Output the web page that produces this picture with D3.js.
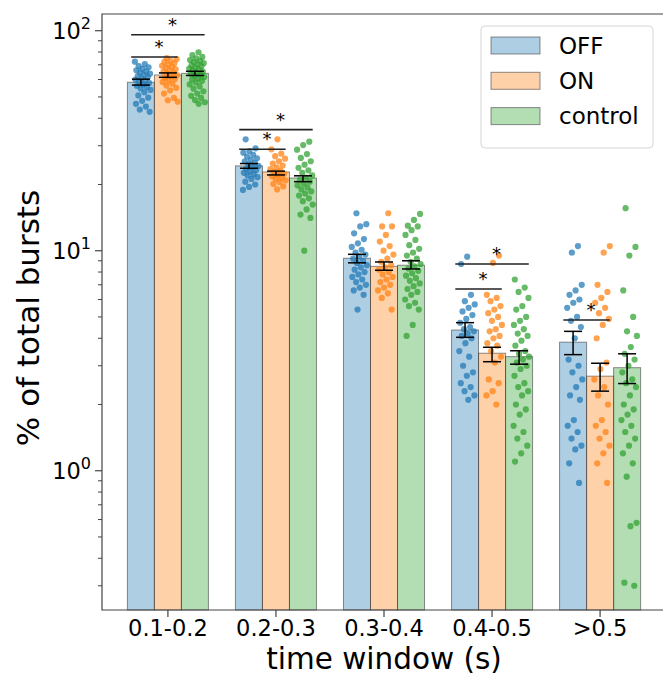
<!DOCTYPE html><meta charset="utf-8">
<style>
*{margin:0}
body{background:#fff}
text{font-family:"DejaVu Sans",sans-serif;fill:#000}
</style>
<svg width="663" height="677"></svg>
<script src="https://cdn.jsdelivr.net/npm/d3@7"></script>
<script>
// categories / groups
const categories = ["0.1-0.2", "0.2-0.3", "0.3-0.4", "0.4-0.5", ">0.5"];
const conditions = ["OFF", "ON", "control"];

// bar heights (mean, %)
const meanOFF     = [58.3, 24.3, 9.24, 4.36, 3.84];
const meanON      = [62.9, 22.8, 8.49, 3.42, 2.69];
const meanControl = [64.0, 21.4, 8.59, 3.30, 2.94];

// error bar ends
const errLoOFF     = [56.6, 23.7, 8.81, 4.04, 3.37];
const errHiOFF     = [60.2, 24.9, 9.63, 4.71, 4.30];
const errLoON      = [61.4, 22.1, 8.15, 3.13, 2.30];
const errHiON      = [64.3, 23.0, 8.89, 3.64, 3.08];
const errLoControl = [62.6, 20.6, 8.26, 3.05, 2.49];
const errHiControl = [65.4, 21.9, 9.00, 3.51, 3.40];

// single-subject points
const pointsOFF = [
  [72.3,70.5,69.0,68.2,67.0,66.1,65.3,64.5,63.8,63.0,62.2,61.5,60.8,60.0,59.3,58.6,57.9,57.0,56.2,55.5,54.6,53.8,52.5,50.8,49.6,48.0,46.5,45.2,43.8,42.8],
  [32.1,29.2,28.4,27.9,27.3,26.8,26.3,25.9,25.5,25.1,24.7,24.3,24.0,23.6,23.3,23.0,22.6,22.3,22.0,21.6,21.2,20.6,20.0,19.5,18.9],
  [14.8,13.2,12.9,12.0,11.3,10.8,10.4,10.1,9.8,9.6,9.4,9.2,9.0,8.8,8.6,8.4,8.2,8.0,7.8,7.6,7.4,7.2,7.0,6.8,6.6,6.3,5.4],
  [9.4,8.7,6.3,5.9,5.7,5.5,5.3,5.1,4.9,4.7,4.5,4.4,4.3,4.2,4.1,4.0,3.8,3.5,3.3,3.0,2.8,2.7,2.5,2.4,2.3,2.2,2.1],
  [10.5,9.8,7.0,6.6,6.3,6.0,5.8,5.5,5.0,4.8,4.5,4.0,3.2,3.0,2.8,2.6,2.4,2.2,2.1,1.7,1.6,1.5,1.4,1.3,1.25,1.08,0.88]
];
const pointsON = [
  [75.0,74.2,73.0,72.1,71.0,70.2,69.3,68.5,67.6,66.8,66.0,65.1,64.4,63.6,62.8,62.0,61.1,60.3,59.4,58.5,57.4,56.3,55.0,53.6,51.8,49.5,48.3,47.6],
  [32.1,28.9,27.6,26.9,26.2,25.5,24.9,24.4,23.9,23.5,23.1,22.8,22.4,22.1,21.8,21.5,21.2,20.9,20.5,20.1,19.6,19.0],
  [14.8,12.9,12.9,11.8,11.0,10.5,10.0,9.6,9.2,8.9,8.6,8.4,8.2,8.0,7.8,7.6,7.4,7.2,7.0,6.8,6.6,6.4,6.1,5.4],
  [9.5,8.8,6.3,6.1,5.9,5.6,5.4,5.2,5.0,4.8,4.6,4.4,4.3,4.1,4.0,3.8,3.7,3.5,3.3,3.1,2.6,2.5,2.3,2.2,2.0],
  [10.5,9.8,7.0,6.5,6.1,5.8,5.5,5.2,4.9,4.6,4.0,3.1,2.9,2.6,2.4,2.2,2.0,1.7,1.6,1.5,1.4,1.3,1.2,1.08,0.88]
];
const pointsControl = [
  [79.8,77.5,76.0,74.8,73.6,72.8,72.0,71.2,70.3,69.5,68.8,68.0,67.3,66.6,65.9,65.2,64.5,63.8,63.1,62.4,61.6,60.8,60.0,59.1,58.2,57.0,55.8,54.5,53.0,51.8,50.6,49.5,48.4,47.3,46.5],
  [31.3,30.2,28.8,27.5,26.4,25.5,24.6,23.8,23.2,22.6,22.0,21.5,21.0,20.6,20.2,19.8,19.4,19.0,18.6,18.2,17.8,17.3,16.8,16.2,15.4,14.6,14.1,10.0],
  [14.7,13.8,13.0,12.9,12.4,11.8,11.2,10.6,10.2,9.8,9.5,9.2,8.9,8.7,8.5,8.3,8.1,7.9,7.7,7.5,7.3,7.1,6.9,6.7,6.5,6.3,6.0,5.8,5.6,5.4,4.6,4.1],
  [7.4,6.8,6.5,6.1,5.6,5.4,5.0,4.8,4.6,4.4,4.2,4.1,3.9,3.7,3.5,3.4,3.3,3.2,3.1,3.0,2.9,2.7,2.5,2.4,2.3,2.2,2.0,1.9,1.8,1.6,1.5,1.4,1.3,1.2,1.1],
  [15.6,10.4,9.5,6.6,5.0,4.3,4.1,3.65,3.4,3.2,3.0,2.8,2.6,2.5,2.4,2.2,2.0,1.9,1.8,1.7,1.6,1.5,1.4,1.3,1.2,1.08,0.94,0.58,0.56,0.31,0.30]
];

// significance brackets: category, from condition, to condition, height
const sigCat  = [0, 0, 1, 1, 3, 3, 4];
const sigFrom = [0, 0, 0, 0, 0, 0, 0];
const sigTo   = [2, 1, 2, 1, 2, 1, 1];
const sigY    = [95.9, 75.9, 35.5, 28.9, 8.70, 6.70, 4.84];

const colors = ["#1f77b4", "#ff7f0e", "#2ca02c"];
const means  = [meanOFF, meanON, meanControl];
const errLo  = [errLoOFF, errLoON, errLoControl];
const errHi  = [errHiOFF, errHiON, errHiControl];
const points = [pointsOFF, pointsON, pointsControl];

const svg = d3.select("svg");
const mLeft = 102, mRight = 666, mTop = 14, mBottom = 610;
const barW = 0.25;

const x = d3.scaleLinear().domain([-0.61, 4.61]).range([mLeft, mRight]);
const y = d3.scaleLog().domain([0.2328, 119.1]).range([mBottom, mTop]);
const bx = (ci, k) => x(ci + (k - 1) * barW);
const bw = x(barW) - x(0);

// bars
conditions.forEach((c, k) => {
  svg.append("g").selectAll("rect").data(categories).join("rect")
    .attr("x", (d, i) => bx(i, k) - bw / 2)
    .attr("width", bw)
    .attr("y", (d, i) => y(means[k][i]))
    .attr("height", (d, i) => mBottom - y(means[k][i]))
    .attr("fill", colors[k]).attr("fill-opacity", 0.36)
    .attr("stroke", "#333").attr("stroke-opacity", 0.55).attr("stroke-width", 1);
});

// points (fixed jitter by index)
conditions.forEach((c, k) => {
  points[k].forEach((vals, i) => {
    svg.append("g").selectAll("circle").data(vals).join("circle")
      .attr("cx", (v, j) => bx(i, k) + 2 + (((j * 0.618034 + k * 0.3 + i * 0.17) % 1) - 0.5) * 16)
      .attr("cy", v => y(v))
      .attr("r", 3.1)
      .attr("fill", colors[k]).attr("fill-opacity", 0.72);
  });
});

// error bars
conditions.forEach((c, k) => {
  const g = svg.append("g").attr("stroke", "#000").attr("stroke-width", 1.5);
  categories.forEach((d, i) => {
    const cx = bx(i, k);
    g.append("line").attr("x1", cx).attr("x2", cx).attr("y1", y(errLo[k][i])).attr("y2", y(errHi[k][i]));
    g.append("line").attr("x1", cx - 9).attr("x2", cx + 9).attr("y1", y(errLo[k][i])).attr("y2", y(errLo[k][i]));
    g.append("line").attr("x1", cx - 9).attr("x2", cx + 9).attr("y1", y(errHi[k][i])).attr("y2", y(errHi[k][i]));
  });
});

// significance lines + stars
sigY.forEach((v, s) => {
  const x1 = x(sigCat[s] + (sigFrom[s] - 1) * barW - 0.09);
  const x2 = x(sigCat[s] + (sigTo[s] - 1) * barW + 0.09);
  svg.append("line").attr("x1", x1).attr("x2", x2).attr("y1", y(v)).attr("y2", y(v))
    .attr("stroke", "#222").attr("stroke-width", 1.6);
  svg.append("text").attr("x", (x1 + x2) / 2 + 4.5).attr("y", y(v) - 4)
    .attr("text-anchor", "middle").attr("font-size", 18).text("*");
});

// spines
svg.append("path").attr("fill", "none").attr("stroke", "#444").attr("stroke-width", 1.2)
  .attr("d", `M${mRight},${mTop}H${mLeft}V${mBottom}H${mRight}`);

// y ticks
const yAx = svg.append("g");
const minors = [];
[0.1, 1, 10].forEach(dec => { for (let m = 2; m <= 9; m++) minors.push(dec * m); });
yAx.selectAll(".mn").data(minors.filter(v => v > 0.2328 && v < 119.1)).join("line")
  .attr("x1", mLeft - 4).attr("x2", mLeft).attr("y1", d => y(d)).attr("y2", d => y(d))
  .attr("stroke", "#444");
const majors = [1, 10, 100];
const exps = ["0", "1", "2"];
yAx.selectAll(".mj").data(majors).join("line")
  .attr("x1", mLeft - 7).attr("x2", mLeft).attr("y1", d => y(d)).attr("y2", d => y(d))
  .attr("stroke", "#444").attr("stroke-width", 1.2);
majors.forEach((v, i) => {
  const t = yAx.append("text").attr("x", mLeft - 11).attr("y", y(v) + 8)
    .attr("text-anchor", "end").attr("font-size", 22.5);
  t.append("tspan").text("10");
  t.append("tspan").attr("dy", -10).attr("font-size", 16).text(exps[i]);
});

// x ticks
const xAx = svg.append("g");
xAx.selectAll("line").data(categories).join("line")
  .attr("x1", (d, i) => x(i)).attr("x2", (d, i) => x(i))
  .attr("y1", mBottom).attr("y2", mBottom + 7).attr("stroke", "#444").attr("stroke-width", 1.2);
xAx.selectAll("text").data(categories).join("text")
  .attr("x", (d, i) => x(i)).attr("y", mBottom + 26)
  .attr("text-anchor", "middle").attr("font-size", 22.5).text(d => d);

// axis labels
svg.append("text").attr("x", 384).attr("y", 669).attr("text-anchor", "middle")
  .attr("font-size", 29.5).text("time window (s)");
svg.append("text").attr("transform", "translate(39,318) rotate(-90)")
  .attr("text-anchor", "middle").attr("font-size", 31).text("% of total bursts");

// legend
const lg = svg.append("g");
lg.append("rect").attr("x", 481).attr("y", 26).attr("width", 172).attr("height", 122)
  .attr("rx", 4).attr("fill", "#fff").attr("fill-opacity", 0.8)
  .attr("stroke", "#d6d6d6");
conditions.forEach((c, k) => {
  lg.append("rect").attr("x", 491).attr("y", 37 + k * 35.3).attr("width", 49).attr("height", 17)
    .attr("fill", colors[k]).attr("fill-opacity", 0.36)
    .attr("stroke", "#333").attr("stroke-opacity", 0.55);
  lg.append("text").attr("x", 559).attr("y", 53.5 + k * 35.3).attr("font-size", 23).text(c);
});
</script>
